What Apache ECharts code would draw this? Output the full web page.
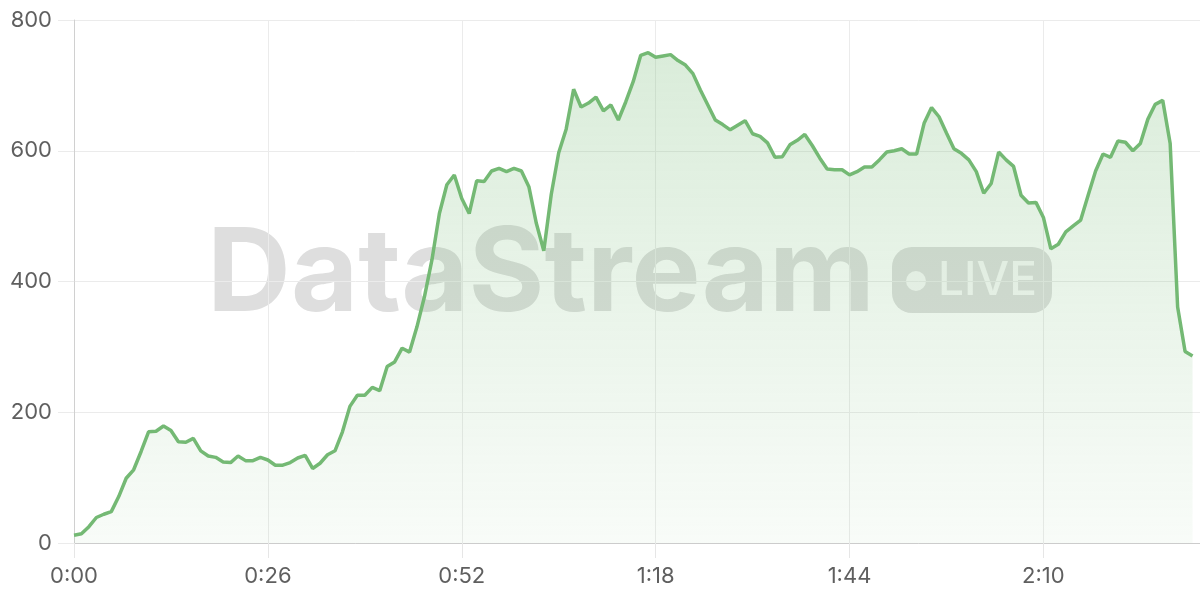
<!DOCTYPE html>
<html>
<head>
<meta charset="utf-8">
<script src="https://cdn.jsdelivr.net/npm/echarts@6/dist/echarts.min.js"></script>
<style>
html,body{margin:0;padding:0;background:#fff;}
#chart{width:1200px;height:600px;}
</style>
</head>
<body>
<div id="chart"></div>
<script>
// viewers over time, one sample per second (0:00 .. 2:30)
const viewers = [
  12, 14, 25, 39, 44, 48, 71, 99, 112, 140,
  170, 171, 179, 172, 155, 154, 160, 141, 133, 131,
  124, 123, 133, 126, 126, 131, 127, 119, 119, 123,
  130, 134, 114, 122, 135, 141, 170, 209, 226, 226,
  238, 233, 270, 277, 298, 292, 331, 377, 433, 504,
  548, 563, 527, 504, 554, 553, 569, 573, 568, 573,
  569, 545, 489, 447, 533, 597, 633, 694, 667, 673,
  682, 661, 670, 647, 675, 706, 746, 750, 743, 745,
  747, 738, 731, 718, 693, 670, 647, 640, 632, 639,
  646, 626, 622, 612, 590, 591, 609, 616, 625, 608,
  589, 572, 571, 571, 563, 568, 575, 575, 586, 598,
  600, 603, 595, 595, 642, 666, 652, 627, 603, 596,
  586, 568, 535, 550, 598, 586, 576, 532, 520, 521,
  498, 450, 457, 476, 485, 494, 532, 569, 595, 590,
  615, 613, 600, 611, 648, 671, 677, 611, 361, 293,
  286
];
const yTicks = [0, 200, 400, 600, 800];
const xTickStep = 26; // seconds between x labels
const watermarkText = 'DataStream';
const badgeText = 'LIVE';

function fmtTime(v) {
  const m = Math.floor(v / 60);
  const s = Math.round(v % 60);
  return m + ':' + (s < 10 ? '0' + s : s);
}

const seriesData = viewers.map((v, i) => [i, v]);

const chart = echarts.init(document.getElementById('chart'), null, {renderer: 'canvas'});
const labelFont = 'Inter, Roboto, sans-serif';
chart.setOption({
  animation: false,
  grid: {left: 74, right: 0, top: 20, bottom: 57, containLabel: false},
  xAxis: {
    type: 'value',
    min: 0,
    max: viewers.length,
    interval: xTickStep,
    axisLine: {show: true, lineStyle: {color: '#cccccc', width: 1}},
    axisTick: {show: true, length: 15, lineStyle: {color: '#e6e6e6'}},
    splitLine: {show: true, lineStyle: {color: '#ebebeb', width: 1}},
    axisLabel: {
      formatter: fmtTime, color: '#5f5f5f', fontSize: 22, fontFamily: labelFont,
      margin: 22, showMaxLabel: false
    }
  },
  yAxis: {
    type: 'value',
    min: yTicks[0],
    max: yTicks[yTicks.length - 1],
    interval: yTicks[1] - yTicks[0],
    axisLine: {show: true, lineStyle: {color: '#d0d0d0', width: 1}},
    axisTick: {show: true, length: 16, lineStyle: {color: '#ebebeb'}},
    splitLine: {show: true, lineStyle: {color: '#ebebeb', width: 1}},
    axisLabel: {color: '#5f5f5f', fontSize: 22, fontFamily: labelFont, margin: 22}
  },
  graphic: [
    {
      type: 'text', z: -10, x: 541, y: 276,
      style: {
        text: watermarkText, fill: '#dedede',
        font: 'bold 116px Inter, Roboto, sans-serif',
        align: 'center', verticalAlign: 'middle',
        textAlign: 'center', textVerticalAlign: 'middle'
      }
    },
    {
      type: 'rect', z: -10,
      shape: {x: 892, y: 247, width: 160, height: 66, r: 20},
      style: {fill: '#dedede'}
    },
    {
      type: 'circle', z: -9,
      shape: {cx: 916, cy: 281, r: 10},
      style: {fill: 'rgba(255,255,255,0.8)'}
    },
    {
      type: 'text', z: -9, x: 938, y: 281,
      style: {
        text: badgeText, fill: 'rgba(255,255,255,0.8)',
        font: '500 46px Inter, Roboto, sans-serif',
        align: 'left', verticalAlign: 'middle',
        textAlign: 'left', textVerticalAlign: 'middle'
      }
    }
  ],
  series: [{
    type: 'line',
    data: seriesData,
    showSymbol: false,
    smooth: false,
    lineStyle: {color: '#74b974', width: 3.5},
    itemStyle: {color: '#74b974'},
    areaStyle: {
      color: new echarts.graphic.LinearGradient(0, 0, 0, 1, [
        {offset: 0, color: 'rgba(116,185,116,0.38)'},
        {offset: 1, color: 'rgba(116,185,116,0.07)'}
      ])
    },
    z: 2
  }]
});
</script>
</body>
</html>
